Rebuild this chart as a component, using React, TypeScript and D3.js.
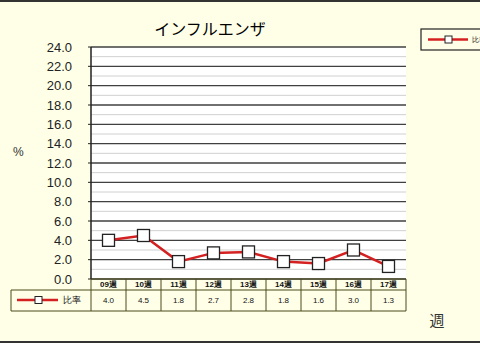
import React from "react";
import * as d3 from "d3";

const categories = ["09週", "10週", "11週", "12週", "13週", "14週", "15週", "16週", "17週"];
const values = [4.0, 4.5, 1.8, 2.7, 2.8, 1.8, 1.6, 3.0, 1.3];
const yTicks = [0, 2, 4, 6, 8, 10, 12, 14, 16, 18, 20, 22, 24];
const minorTicks = [1, 3, 5, 7, 9, 11, 13, 15, 17, 19, 21, 23];
const seriesName = "比率";
const title = "インフルエンザ";

const W = 480;
const H = 343;
const plot = { left: 91, right: 406, top: 47, bottom: 279 };

export default function App() {
  const x = d3
    .scaleBand<string>()
    .domain(categories)
    .range([plot.left, plot.right]);
  const y = d3.scaleLinear().domain([0, 24]).range([plot.bottom, plot.top]);
  const line = d3
    .line<number>()
    .x((_, i) => (x(categories[i]) as number) + x.bandwidth() / 2)
    .y((d) => y(d));

  const font = "Arial, 'Liberation Sans', sans-serif";
  const tableTop = 279;
  const rowMid = 290;
  const tableBottom = 311;
  const border = "#4a4a1a";

  return (
    <svg
      width={W}
      height={H}
      style={{ position: "absolute", left: 0, top: 0 }}
      fontFamily={font}
    >
      <rect x={0} y={0} width={W} height={H} fill="#ffffe8" />
      <rect x={0} y={0} width={W} height={2} fill="#333" />
      <rect x={0} y={H - 2} width={W} height={2} fill="#333" />

      <text
        x={210}
        y={35}
        textAnchor="middle"
        fontSize={16}
        fontFamily="'Noto Sans CJK JP', sans-serif"
        fill="#000"
      >
        {title}
      </text>

      {/* plot area */}
      <rect
        x={plot.left}
        y={plot.top}
        width={plot.right - plot.left}
        height={plot.bottom - plot.top}
        fill="#ffffff"
      />
      {minorTicks.map((t) => (
        <line
          key={"m" + t}
          x1={plot.left}
          x2={plot.right}
          y1={y(t)}
          y2={y(t)}
          stroke="#d0d0d0"
          strokeWidth={1}
        />
      ))}
      {yTicks.map((t) => (
        <line
          key={"g" + t}
          x1={plot.left}
          x2={plot.right}
          y1={y(t)}
          y2={y(t)}
          stroke="#404040"
          strokeWidth={1.3}
        />
      ))}
      <line
        x1={plot.left}
        x2={plot.left}
        y1={plot.top}
        y2={plot.bottom}
        stroke="#222"
        strokeWidth={1.5}
      />
      {yTicks.map((t) => (
        <g key={"t" + t}>
          <line
            x1={plot.left - 3}
            x2={plot.left}
            y1={y(t)}
            y2={y(t)}
            stroke="#222"
          />
          <text
            x={72}
            y={y(t)}
            dy="0.36em"
            textAnchor="end"
            fontSize={13}
            fill="#222"
          >
            {t.toFixed(1)}
          </text>
        </g>
      ))}

      <text x={13} y={156} fontSize={12} fill="#333">
        %
      </text>

      {/* series */}
      <path d={line(values) || ""} fill="none" stroke="#d42020" strokeWidth={2.5} />
      {values.map((v, i) => {
        const cx = (x(categories[i]) as number) + x.bandwidth() / 2;
        return (
          <rect
            key={"p" + i}
            x={cx - 6}
            y={y(v) - 6}
            width={12}
            height={12}
            fill="#ffffff"
            stroke="#222"
            strokeWidth={1.3}
          />
        );
      })}

      {/* data table */}
      <line x1={plot.left} x2={plot.right} y1={tableTop} y2={tableTop} stroke={border} />
      <line x1={11} x2={plot.right} y1={rowMid} y2={rowMid} stroke={border} />
      <line x1={11} x2={plot.right} y1={tableBottom} y2={tableBottom} stroke={border} />
      <line x1={11} x2={11} y1={rowMid} y2={tableBottom} stroke={border} />
      <line x1={plot.left} x2={plot.left} y1={tableTop} y2={tableBottom} stroke={border} />
      {categories.map((c, i) => {
        const x0 = x(c) as number;
        const cx = x0 + x.bandwidth() / 2;
        return (
          <g key={"c" + i}>
            <line
              x1={x0 + x.bandwidth()}
              x2={x0 + x.bandwidth()}
              y1={tableTop}
              y2={tableBottom}
              stroke={border}
            />
            <text
              x={cx}
              y={(tableTop + rowMid) / 2}
              dy="0.36em"
              textAnchor="middle"
              fontSize={8}
              fontWeight="bold"
              fill="#111"
            >
              {c}
            </text>
            <text
              x={cx}
              y={(rowMid + tableBottom) / 2}
              dy="0.36em"
              textAnchor="middle"
              fontSize={8}
              fill="#111"
            >
              {values[i].toFixed(1)}
            </text>
          </g>
        );
      })}
      {/* table legend key */}
      <line x1={17} x2={58} y1={300} y2={300} stroke="#d42020" strokeWidth={2.5} />
      <rect x={35} y={296.5} width={7} height={7} fill="#fff" stroke="#222" />
      <text x={63} y={300} dy="0.36em" fontSize={9} fill="#111">
        {seriesName}
      </text>

      {/* legend */}
      <rect x={421} y={29} width={70} height={21} fill="#ffffe8" stroke="#222" strokeWidth={1.2} />
      <line x1={428} x2={468} y1={39.5} y2={39.5} stroke="#d42020" strokeWidth={2.5} />
      <rect x={445} y={36} width={7} height={7} fill="#fff" stroke="#222" />
      <text x={472} y={39.5} dy="0.36em" fontSize={7} fill="#111">
        {seriesName}
      </text>

      <text
        x={437}
        y={326}
        textAnchor="middle"
        fontSize={15}
        fontFamily="'Noto Sans CJK JP', sans-serif"
        fill="#333"
      >
        週
      </text>
    </svg>
  );
}
